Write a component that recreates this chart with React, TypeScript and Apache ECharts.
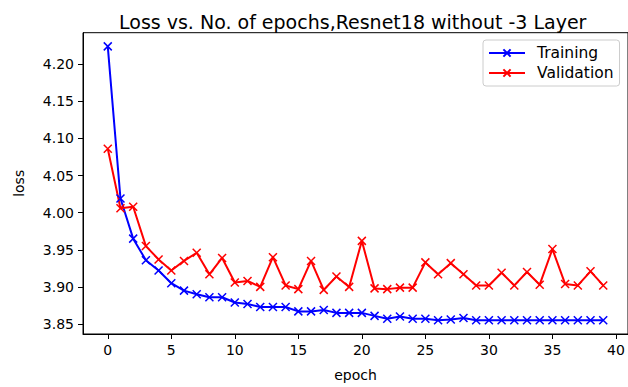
import React, { useEffect, useRef } from "react";
import * as echarts from "echarts";

const epochs = [0, 1, 2, 3, 4, 5, 6, 7, 8, 9, 10, 11, 12, 13, 14, 15, 16, 17, 18, 19, 20, 21, 22, 23, 24, 25, 26, 27, 28, 29, 30, 31, 32, 33, 34, 35, 36, 37, 38, 39];

const training = [
  4.224, 4.019, 3.965, 3.936, 3.922, 3.905, 3.895, 3.890, 3.886, 3.886,
  3.879, 3.877, 3.873, 3.873, 3.873, 3.867, 3.867, 3.869, 3.865, 3.865,
  3.865, 3.861, 3.857, 3.860, 3.857, 3.857, 3.855, 3.856, 3.858, 3.855,
  3.855, 3.855, 3.855, 3.855, 3.855, 3.855, 3.855, 3.855, 3.855, 3.855,
];

const validation = [
  4.086, 4.006, 4.008, 3.955, 3.937, 3.922, 3.935, 3.946, 3.917, 3.939,
  3.906, 3.908, 3.900, 3.940, 3.902, 3.897, 3.935, 3.896, 3.914, 3.900,
  3.962, 3.898, 3.897, 3.899, 3.899, 3.933, 3.917, 3.932, 3.917, 3.902,
  3.902, 3.919, 3.902, 3.920, 3.903, 3.951, 3.904, 3.902, 3.921, 3.902,
];

const xTicks = [0, 5, 10, 15, 20, 25, 30, 35, 40];
const yTicks = [3.85, 3.9, 3.95, 4.0, 4.05, 4.1, 4.15, 4.2];

const FONT = "DejaVu Sans";
const CROSS = "path://M0,0L10,10M10,0L0,10";

function withMargin(values: number[], frac: number): [number, number] {
  const lo = Math.min(...values);
  const hi = Math.max(...values);
  const pad = (hi - lo) * frac;
  return [lo - pad, hi + pad];
}

export default function App() {
  const ref = useRef<HTMLDivElement>(null);
  useEffect(() => {
    if (!ref.current) return;
    const chart = echarts.init(ref.current, undefined, { renderer: "svg" });
    const [xMin, xMax] = withMargin(epochs, 0.05);
    const [yMin, yMax] = withMargin([...training, ...validation], 0.05);
    const mk = (name: string, vals: number[], color: string) => ({
      name,
      type: "line",
      data: epochs.map((e, i) => [e, vals[i]]),
      symbol: CROSS,
      symbolSize: 8,
      showSymbol: true,
      lineStyle: { color, width: 2 },
      itemStyle: { color, borderColor: color, borderWidth: 1.5 },
      emphasis: { disabled: true },
    });
    chart.setOption({
      animation: false,
      backgroundColor: "#fff",
      title: {
        text: "Loss vs. No. of epochs,Resnet18 without -3 Layer",
        left: 114,
        top: 7,
        textStyle: { fontFamily: FONT, fontSize: 19, fontWeight: "normal", color: "#000" },
      },
      legend: {
        orient: "vertical",
        left: 483,
        top: 40,
        padding: [5, 6, 5, 5],
        itemWidth: 36,
        itemHeight: 9,
        itemGap: 4,
        borderColor: "#cccccc",
        borderWidth: 1,
        borderRadius: 3,
        backgroundColor: "rgba(255,255,255,0.8)",
        textStyle: {
          fontFamily: FONT,
          fontSize: 15.5,
          color: "#000",
          lineHeight: 16,
          padding: [0, 0, 0, 7],
        },
        data: ["Training", "Validation"],
      },
      grid: {
        left: 83,
        right: -5,
        top: 32.7,
        bottom: 46,
        show: true,
        borderColor: "#000",
        borderWidth: 1,
        backgroundColor: "transparent",
      },
      xAxis: {
        type: "value",
        min: xMin,
        max: xMax,
        name: "epoch",
        nameLocation: "middle",
        nameGap: 34,
        nameTextStyle: { fontFamily: FONT, fontSize: 14, color: "#000" },
        axisLine: { show: true, onZero: false, lineStyle: { color: "#000", width: 1 } },
        axisTick: { show: true, length: 5, customValues: xTicks, lineStyle: { color: "#000" } },
        axisLabel: { customValues: xTicks, fontFamily: FONT, fontSize: 14, color: "#000", margin: 9 },
        splitLine: { show: false },
      },
      yAxis: {
        type: "value",
        min: yMin,
        max: yMax,
        name: "loss",
        nameLocation: "middle",
        nameRotate: 90,
        nameGap: 57,
        nameTextStyle: { fontFamily: FONT, fontSize: 14, color: "#000" },
        axisLine: { show: true, onZero: false, lineStyle: { color: "#000", width: 1 } },
        axisTick: { show: true, length: 5, customValues: yTicks, lineStyle: { color: "#000" } },
        axisLabel: {
          customValues: yTicks,
          fontFamily: FONT,
          fontSize: 14,
          color: "#000",
          margin: 9,
          formatter: (v: number) => v.toFixed(2),
        },
        splitLine: { show: false },
      },
      series: [mk("Training", training, "#0000ff"), mk("Validation", validation, "#ff0000")],
    });
    return () => chart.dispose();
  }, []);
  return (
    <div
      ref={ref}
      style={{ position: "fixed", left: 0, top: 0, width: 628, height: 387, background: "#fff" }}
    />
  );
}
